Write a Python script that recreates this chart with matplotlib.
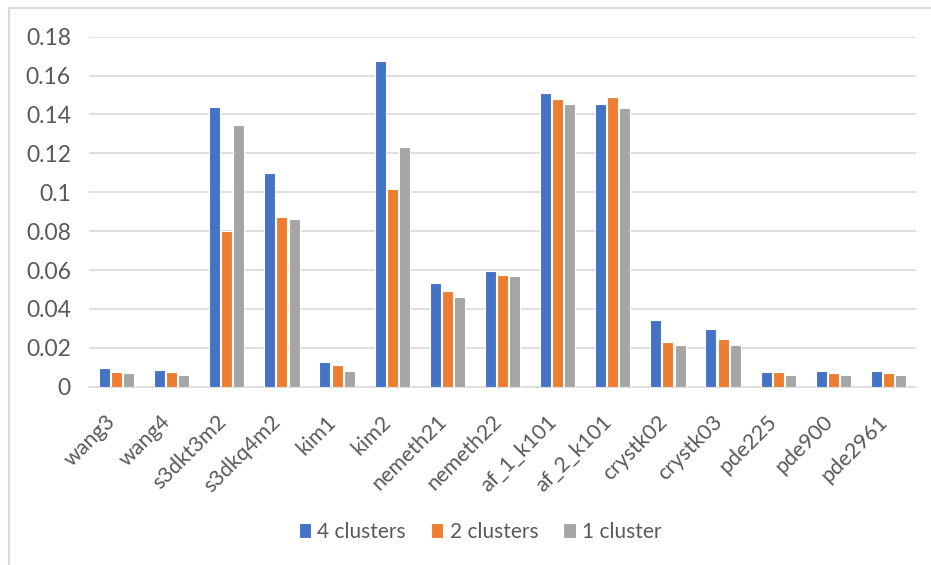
import matplotlib
matplotlib.use("Agg")
import matplotlib.pyplot as plt
import matplotlib.transforms as mtransforms
import numpy as np
from matplotlib.patches import Rectangle

plt.rcParams['font.family'] = ['Lato', 'DejaVu Sans']

categories = ["wang3", "wang4", "s3dkt3m2", "s3dkq4m2", "kim1", "kim2",
              "nemeth21", "nemeth22", "af_1_k101", "af_2_k101", "crystk02",
              "crystk03", "pde225", "pde900", "pde2961"]
four_clusters = [0.0094, 0.0086, 0.1440, 0.1100, 0.0125, 0.1677, 0.0535, 0.0593,
                 0.1509, 0.1452, 0.0343, 0.0298, 0.0074, 0.0081, 0.0081]
two_clusters = [0.0077, 0.0077, 0.0800, 0.0874, 0.0111, 0.1015, 0.0490, 0.0574,
                0.1478, 0.1490, 0.0228, 0.0247, 0.0074, 0.0069, 0.0069]
one_cluster = [0.0069, 0.0060, 0.1344, 0.0862, 0.0081, 0.1234, 0.0459, 0.0567,
               0.1452, 0.1433, 0.0214, 0.0214, 0.0060, 0.0060, 0.0060]
series_names = ["4 clusters", "2 clusters", "1 cluster"]
y_ticks = [0, 0.02, 0.04, 0.06, 0.08, 0.1, 0.12, 0.14, 0.16, 0.18]
y_tick_labels = ["0", "0.02", "0.04", "0.06", "0.08", "0.1", "0.12", "0.14", "0.16", "0.18"]

colors = ["#4472C4", "#ED7D31", "#A5A5A5"]
text_color = "#595959"

fig = plt.figure(figsize=(9.31, 5.65), dpi=100)
# chart frame (top and left edges visible)
fig.patches.append(Rectangle((9 / 931, -0.1), 1.2, 1 - 8 / 565 + 0.1,
                             transform=fig.transFigure, fill=False,
                             edgecolor="#D9D9D9", linewidth=1.5))
ax = fig.add_axes([89 / 931, 1 - 386.7 / 565, (916 - 89) / 931, 350 / 565])

x = np.arange(len(categories))
width = 0.2
offsets = [-0.22, 0.0, 0.22]
handles = []
for vals, off, col, name in zip([four_clusters, two_clusters, one_cluster],
                                offsets, colors, series_names):
    h = ax.bar(x + off, vals, width, color=col, edgecolor="white",
               linewidth=0.8, label=name, zorder=3)
    handles.append(h)

ax.set_xlim(-0.5, len(categories) - 0.5)
ax.set_ylim(0, 0.18)
ax.set_yticks(y_ticks)
ax.set_yticklabels(y_tick_labels)
ax.grid(axis="y", color="#D9D9D9", linewidth=1.2, zorder=0)
for s in ["top", "right", "left"]:
    ax.spines[s].set_visible(False)
ax.spines["bottom"].set_color("#D9D9D9")
ax.spines["bottom"].set_linewidth(1.2)
ax.tick_params(axis="both", length=0, colors=text_color)
ax.tick_params(axis="y", labelsize=16.5, pad=13)
ax.set_xticks(x)
ax.set_xticklabels(categories, rotation=45, ha="right", va="center",
                   rotation_mode="anchor")
ax.tick_params(axis="x", labelsize=15.5, pad=23)
shift = mtransforms.ScaledTranslation(-4 / 100, 0, fig.dpi_scale_trans)
for lbl in ax.get_xticklabels():
    lbl.set_transform(lbl.get_transform() + shift)

leg = fig.legend(handles=handles, labels=series_names, loc="center",
                 bbox_to_anchor=(480 / 931, 1 - 532 / 565), ncol=3,
                 frameon=False, fontsize=15, handlelength=0.6,
                 handleheight=0.7, handletextpad=0.3, columnspacing=1.2)
for t in leg.get_texts():
    t.set_color(text_color)

fig.savefig("out.png", dpi=100)
